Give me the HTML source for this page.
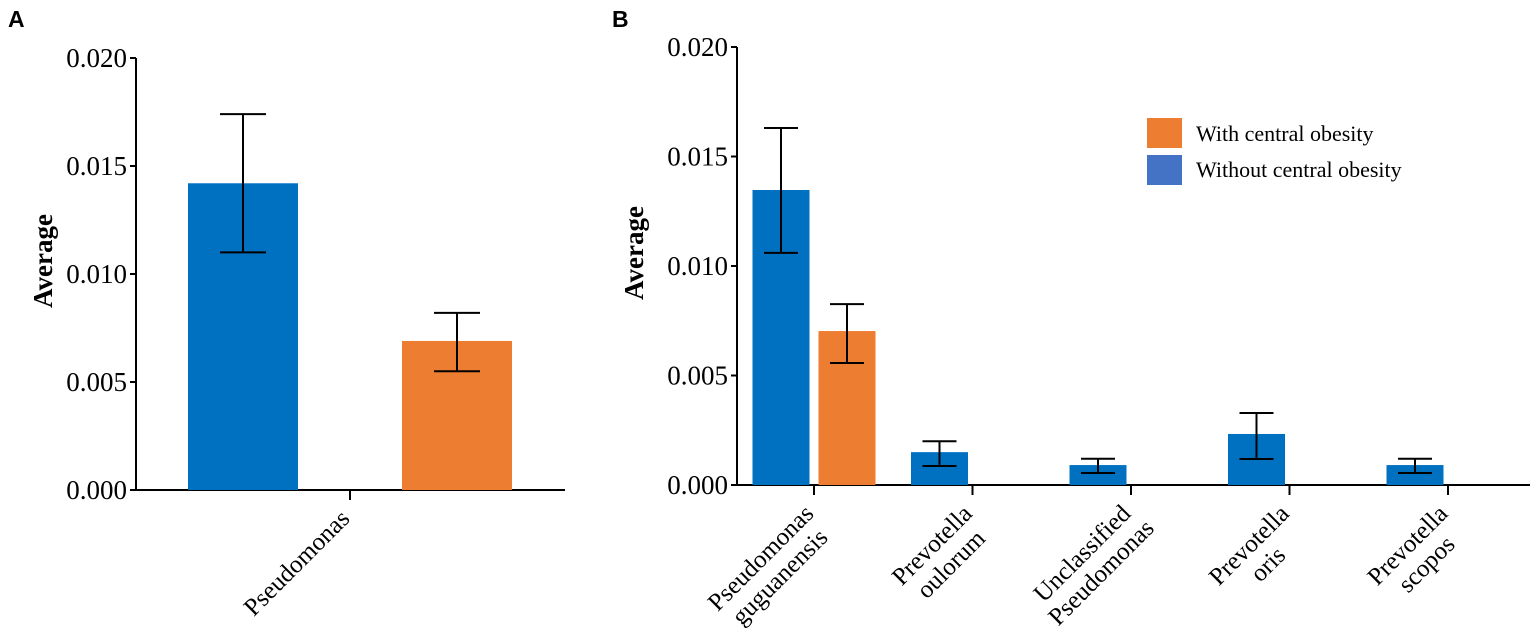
<!DOCTYPE html>
<html><head><meta charset="utf-8"><style>
body{margin:0;background:#fff}
svg{display:block;font-family:"Liberation Serif",serif}
</style></head><body>
<svg id="c" width="1535" height="638">
<text x="8" y="27" font-family="Liberation Sans" font-weight="bold" font-size="23">A</text>
<text x="612" y="27" font-family="Liberation Sans" font-weight="bold" font-size="23">B</text>
<g id="pa"></g>
<g id="pb"></g>
<g>
<rect x="1147" y="118" width="35" height="30" fill="#ED7D31"/>
<text x="1196" y="141" font-size="22">With central obesity</text>
<rect x="1147" y="155" width="35" height="30" fill="#4472C4"/>
<text x="1196" y="177" font-size="22">Without central obesity</text>
</g>
</svg>
<script>
const NS="http://www.w3.org/2000/svg";
const yTicks=["0.000","0.005","0.010","0.015","0.020"];
const aCats=[["Pseudomonas"]];
const aBlue=[0.0142];const aBlueLo=[0.0110];const aBlueHi=[0.0174];
const aOrange=[0.0069];const aOrangeLo=[0.0055];const aOrangeHi=[0.0082];
const bCats=[["Pseudomonas","guguanensis"],["Prevotella","oulorum"],["Unclassified","Pseudomonas"],["Prevotella","oris"],["Prevotella","scopos"]];
const bBlue=[0.01347,0.0015,0.00091,0.00233,0.00091];
const bBlueLo=[0.0106,0.00087,0.00055,0.00119,0.00055];
const bBlueHi=[0.0163,0.0020,0.0012,0.00329,0.0012];
const bOrange=[0.00703,null,null,null,null];
const bOrangeLo=[0.00557,null,null,null,null];
const bOrangeHi=[0.00826,null,null,null,null];
const BLUE="#0070C0",ORANGE="#ED7D31";
function mk(p,t,a,name){const e=document.createElementNS(NS,t);for(const k in a)e.setAttribute(k,a[k]);


p.appendChild(e);return e;}
function panel(g,o){
 const y=v=>o.y0-(v/0.02)*(o.y0-o.y1);
 mk(g,"line",{x1:o.ax,y1:o.y1,x2:o.ax,y2:o.y0+1,stroke:"#000","stroke-width":2},"y-axis");
 mk(g,"line",{x1:o.ax,y1:o.y0,x2:o.xEnd,y2:o.y0,stroke:"#000","stroke-width":2},"x-axis");
 yTicks.forEach(t=>{const yy=y(parseFloat(t));
  mk(g,"line",{x1:o.ax-6,y1:yy,x2:o.ax,y2:yy,stroke:"#000","stroke-width":2},"y-tick");
  const tx=mk(g,"text",{x:o.ax-9,y:yy+9,"text-anchor":"end","font-size":27},"y-tick-label");tx.textContent=t;});
 const tt=mk(g,"text",{x:0,y:0,"text-anchor":"middle","font-size":27,"font-weight":"bold",transform:`translate(${o.tx},${o.ty}) rotate(-90)`},"y-axis-title");tt.textContent="Average";
 o.cats.forEach((c,i)=>{
  const tick=o.t0+i*o.step;
  mk(g,"line",{x1:tick,y1:o.y0,x2:tick,y2:o.y0+10,stroke:"#000","stroke-width":2},"x-tick");
  const bars=[[o.blue,o.blueLo,o.blueHi,BLUE,tick-o.off-o.bw/2,"bar-without"],[o.orange,o.orangeLo,o.orangeHi,ORANGE,tick+o.off-o.bw/2,"bar-with"]];
  bars.forEach(([v,lo,hi,col,x,nm])=>{if(v[i]==null)return;
   mk(g,"rect",{x:x,y:y(v[i]),width:o.bw,height:o.y0-y(v[i]),fill:col},nm);
   const cx=x+o.bw/2;
   mk(g,"path",{d:`M${cx},${y(hi[i])}V${y(lo[i])}M${cx-o.cap},${y(hi[i])}H${cx+o.cap}M${cx-o.cap},${y(lo[i])}H${cx+o.cap}`,stroke:"#000","stroke-width":2,fill:"none"},"error-bar");});
  const ex=tick+1,ey=o.y0+30;
  const l1=mk(g,"text",{x:0,y:0,"text-anchor":"middle","font-size":25},"x-tick-label");l1.textContent=c[0];
  const w=l1.getComputedTextLength();const d=w/2*0.7071;
  const c1x=ex-d,c1y=ey+d;
  l1.setAttribute("transform",`translate(${c1x},${c1y}) rotate(-45)`);
  if(c[1]){const l2=mk(g,"text",{x:0,y:0,"text-anchor":"middle","font-size":25},"x-tick-label");l2.textContent=c[1];
   l2.setAttribute("transform",`translate(${c1x+19},${c1y+19}) rotate(-45)`);}
 });
}
panel(document.getElementById("pa"),{ax:136,y0:490,y1:58,xEnd:565,tx:52,ty:261,cats:aCats,t0:350,step:0,off:107,bw:110,cap:23,
 blue:aBlue,blueLo:aBlueLo,blueHi:aBlueHi,orange:aOrange,orangeLo:aOrangeLo,orangeHi:aOrangeHi});
panel(document.getElementById("pb"),{ax:737,y0:485,y1:47,xEnd:1530,tx:643,ty:253,cats:bCats,t0:814,step:158.5,off:33,bw:57,cap:17,
 blue:bBlue,blueLo:bBlueLo,blueHi:bBlueHi,orange:bOrange,orangeLo:bOrangeLo,orangeHi:bOrangeHi});
</script>
</body></html>
